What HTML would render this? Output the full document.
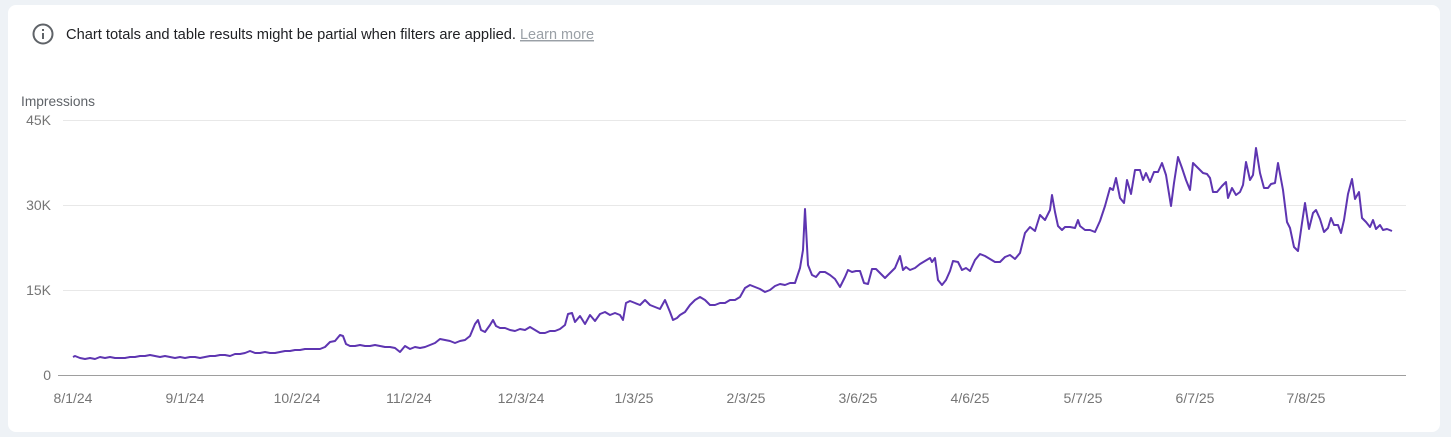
<!DOCTYPE html>
<html><head><style>
body{margin:0;width:1451px;height:437px;background:#eef2f6;font-family:"Liberation Sans",Arial,sans-serif;overflow:hidden}
.card{position:absolute;left:8px;top:5px;width:1432px;height:427px;background:#fff;border-radius:8px}
</style></head><body>
<div class="card"></div>
<svg width="1451" height="437" style="position:absolute;left:0;top:0" font-family="Liberation Sans, Arial, sans-serif">
<circle cx="43" cy="34" r="9.5" fill="none" stroke="#5f6368" stroke-width="2"/>
<rect x="42" y="33" width="2" height="6" fill="#5f6368"/><rect x="42" y="29" width="2" height="2" fill="#5f6368"/>
<text x="66" y="39" font-size="14.6" fill="#202124" textLength="450" lengthAdjust="spacingAndGlyphs">Chart totals and table results might be partial when filters are applied.</text>
<text x="520" y="39" font-size="14.6" fill="#9aa0a6" text-decoration="underline" textLength="74" lengthAdjust="spacingAndGlyphs">Learn more</text>
<text x="21" y="106" font-size="13.5" fill="#5f6368" textLength="74" lengthAdjust="spacingAndGlyphs">Impressions</text>
<g stroke="#e8e8e8" stroke-width="1"><line x1="63" y1="120.5" x2="1406" y2="120.5"/><line x1="63" y1="205.5" x2="1406" y2="205.5"/><line x1="63" y1="290.5" x2="1406" y2="290.5"/></g>
<line x1="58" y1="375.5" x2="1406" y2="375.5" stroke="#9e9e9e"/>
<g font-size="14" fill="#757575" text-anchor="end"><text x="51" y="125">45K</text><text x="51" y="210">30K</text><text x="51" y="295">15K</text><text x="51" y="380">0</text></g>
<g font-size="14" fill="#757575" text-anchor="middle"><text x="73" y="403">8/1/24</text><text x="185" y="403">9/1/24</text><text x="297" y="403">10/2/24</text><text x="409" y="403">11/2/24</text><text x="521" y="403">12/3/24</text><text x="634" y="403">1/3/25</text><text x="746" y="403">2/3/25</text><text x="858" y="403">3/6/25</text><text x="970" y="403">4/6/25</text><text x="1083" y="403">5/7/25</text><text x="1195" y="403">6/7/25</text><text x="1306" y="403">7/8/25</text></g>
<polyline fill="none" stroke="#5e35b1" stroke-width="2" stroke-linejoin="round" points="73,357 75,356 80,358 85,359 90,358 95,359 100,357 105,358 110,357 115,358 120,358 125,358 130,357 135,357 140,356 145,356 150,355 155,356 160,357 165,356 170,357 175,358 180,357 185,358 190,357 195,357 200,358 205,357 210,356 215,356 220,355 225,355 230,356 235,354 240,354 245,353 250,351 255,353 260,353 265,352 270,353 275,353 280,352 285,351 290,351 295,350 300,350 305,349 310,349 315,349 320,349 325,347 330,342 335,341 340,335 343,336 346,344 350,346 355,346 360,345 365,346 370,346 375,345 380,346 385,347 390,347 395,348 400,352 405,346 410,349 415,347 420,348 425,347 430,345 435,343 440,339 445,340 450,341 455,343 460,341 465,340 470,336 475,324 478,320 481,330 485,332 490,325 493,320 496,326 500,328 505,328 510,330 515,331 520,329 525,330 530,327 535,330 540,333 545,333 550,331 555,331 560,329 565,325 568,314 572,313 575,322 580,316 585,324 590,315 595,321 600,314 605,312 610,315 615,313 620,315 623,320 626,303 630,301 635,303 640,305 645,300 650,305 655,307 660,309 665,300 670,312 673,320 677,318 680,315 685,312 690,305 695,300 700,297 705,300 710,305 715,305 720,303 725,303 730,300 735,300 740,297 745,288 750,285 755,287 760,289 765,292 770,290 775,286 780,284 785,285 790,283 795,283 800,268 803,250 805,209 808,265 812,275 816,277 820,272 825,272 830,275 835,279 840,287 845,277 848,270 852,272 856,271 860,271 864,283 868,284 872,269 876,269 880,273 885,278 890,273 895,268 900,256 903,270 906,267 910,270 915,268 920,264 925,261 930,258 932,262 935,258 938,280 942,285 946,280 950,271 953,261 958,262 962,270 966,268 970,271 975,260 980,254 985,256 990,259 995,262 1000,262 1005,257 1010,255 1015,259 1020,253 1025,233 1030,227 1035,231 1040,215 1045,220 1050,210 1052,195 1055,212 1058,226 1062,230 1065,227 1070,227 1075,228 1078,220 1080,226 1085,230 1090,230 1095,232 1100,221 1105,206 1110,188 1113,190 1116,178 1120,198 1124,203 1127,180 1131,194 1135,170 1140,170 1143,180 1146,173 1150,182 1154,172 1158,172 1162,163 1166,175 1171,206 1174,183 1178,157 1182,168 1186,180 1190,190 1193,163 1198,168 1203,173 1207,174 1210,178 1213,192 1217,192 1222,186 1226,182 1228,198 1232,188 1236,195 1240,192 1243,185 1246,162 1250,180 1253,175 1256,148 1260,173 1264,188 1268,188 1271,184 1275,183 1278,163 1283,190 1287,222 1290,228 1294,247 1298,251 1302,223 1305,203 1309,229 1313,213 1316,210 1320,219 1324,232 1328,228 1331,218 1334,225 1338,225 1341,233 1344,220 1348,194 1352,179 1355,199 1359,192 1362,218 1366,222 1370,227 1373,220 1376,229 1380,225 1383,230 1387,229 1392,231"/>
</svg>
</body></html>
